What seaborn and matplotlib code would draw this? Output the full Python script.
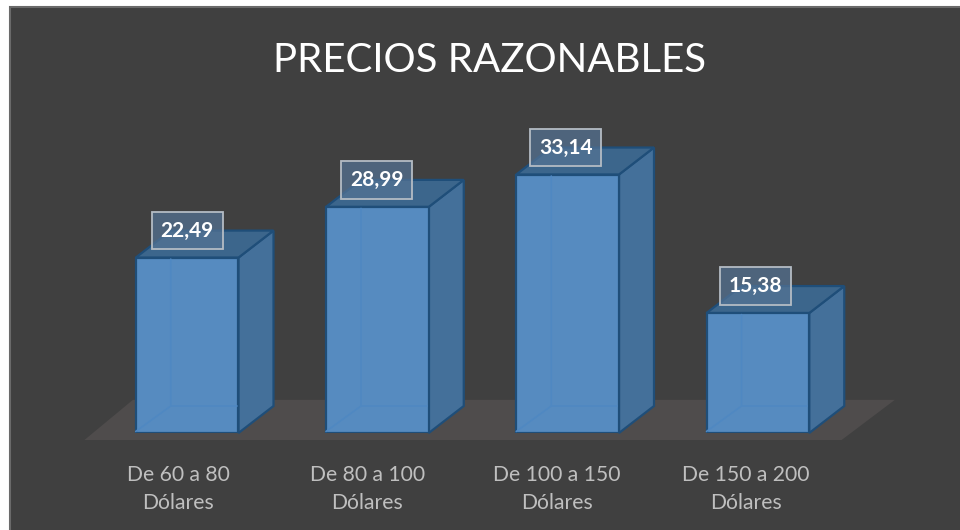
import pandas as pd
import seaborn as sns
import matplotlib.pyplot as plt
from matplotlib.patches import Polygon, Rectangle
from matplotlib.transforms import ScaledTranslation

rangos = ['De 60 a 80\nDólares', 'De 80 a 100\nDólares',
          'De 100 a 150\nDólares', 'De 150 a 200\nDólares']
precios = [22.49, 28.99, 33.14, 15.38]
etiquetas = ['22,49', '28,99', '33,14', '15,38']
titulo = 'PRECIOS RAZONABLES'

BG = '#404040'
FRONT = '#568bc0'
SIDE = '#44709a'
TOP = '#3c668c'
EDGE = '#1f4e79'
INNER = '#4f88c2'
FLOOR = '#4f4c4c'

# depth of the fake 3d, in data units
DX = 0.184
DY = 3.46

sns.set_theme(style='white')
plt.rcParams['font.family'] = ['Lato', 'DejaVu Sans']

df = pd.DataFrame({'rango': rangos, 'precio': precios})

fig = plt.figure(figsize=(9.6, 5.3), dpi=100, facecolor='white')
fig.patches.append(Rectangle((9.5 / 960, -0.02), 1.0, 523.5 / 530 + 0.02, transform=fig.transFigure,
                             facecolor=BG, edgecolor='#6a6a6a', linewidth=1.5, zorder=-1))

ax = fig.add_axes([92 / 960, 97 / 530, 761 / 960, 312 / 530])
ax.patch.set_visible(False)
sns.barplot(data=df, x='rango', y='precio', width=0.54, color=FRONT, saturation=1,
            edgecolor=EDGE, linewidth=1.6, zorder=4, ax=ax)
ax.set_xlim(-0.5, 3.5)
ax.set_ylim(0, 40)

# floor
ax.add_patch(Polygon([(-0.54, -0.9), (-0.285, 4.25), (3.72, 4.25), (3.44, -0.9)],
                     facecolor=FLOOR, edgecolor='none', clip_on=False, zorder=1))

for i, (bar, txt) in enumerate(zip(ax.patches[:4], etiquetas)):
    x0 = bar.get_x()
    x1 = x0 + bar.get_width()
    h = bar.get_height()
    ax.add_patch(Polygon([(x1, 0), (x1 + DX, DY), (x1 + DX, h + DY), (x1, h)], clip_on=False,
                         facecolor=SIDE, edgecolor=EDGE, linewidth=1.6, zorder=3))
    ax.add_patch(Polygon([(x0, h), (x0 + DX, h + DY), (x1 + DX, h + DY), (x1, h)], clip_on=False,
                         facecolor=TOP, edgecolor=EDGE, linewidth=1.6, zorder=3))
    # hidden edges showing through the front
    ax.plot([x0, x0 + DX, x0 + DX], [0.2, DY, h - 0.2], color=INNER, lw=1.2, zorder=5)
    ax.plot([x0 + DX, x1 - 0.01], [DY, DY], color=INNER, lw=1.2, zorder=5)
    # the boxes drift left a little from bar to bar
    ax.annotate(txt, (x0 + bar.get_width() / 2, h + DY), xytext=(-0.6 * i, 0),
                textcoords='offset points', ha='center', va='center', color='white',
                fontsize=15, fontweight='bold', zorder=6,
                bbox=dict(boxstyle='square,pad=0.42', facecolor=(0.33, 0.45, 0.58, 0.72),
                          edgecolor='#b4bcc4', linewidth=1.3))

sns.despine(ax=ax, left=True, bottom=True)
ax.set_xlabel('')
ax.set_ylabel('')
ax.set_yticks([])
ax.tick_params(axis='x', length=0, pad=23, labelsize=15.2, labelcolor='#bfbfbf')
for i, lab in enumerate(ax.get_xticklabels()):
    lab.set_linespacing(1.52)
    # tick labels sit left of their bars in the original
    lab.set_transform(lab.get_transform() + ScaledTranslation((-9 - i) / 100, 0, fig.dpi_scale_trans))

fig.text(490 / 960, 1 - 61 / 530, titulo, ha='center', va='center', color='white', fontsize=29)

fig.savefig('out.png', dpi=100, facecolor=fig.get_facecolor())
